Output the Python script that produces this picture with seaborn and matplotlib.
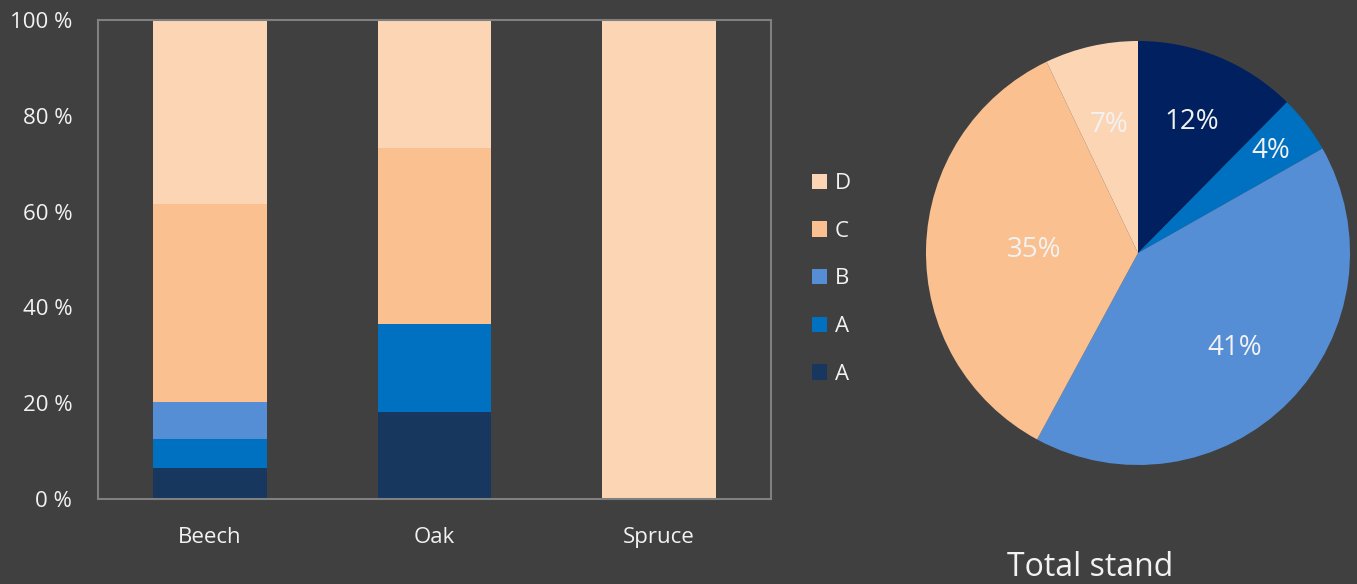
import numpy as np
import pandas as pd
import matplotlib
matplotlib.use("Agg")
import matplotlib.pyplot as plt
from matplotlib.patches import Patch
import seaborn as sns

# ---------------- data ----------------
species = ["Beech", "Oak", "Spruce"]
layer_names = ["A", "A", "B", "C", "D"]          # bottom -> top
a_dark = [6.5, 18.2, 0.0]
a_mid = [6.0, 18.3, 0.0]
b_vals = [7.8, 0.0, 0.0]
c_vals = [41.3, 36.8, 0.0]
d_vals = [38.4, 26.7, 100.0]
y_ticks = [0, 20, 40, 60, 80, 100]
y_tick_labels = ["0 %", "20 %", "40 %", "60 %", "80 %", "100 %"]

pie_values = [12.4, 4.4, 41.1, 35.0, 7.1]        # clockwise from top
pie_title = "Total stand"

# ---------------- style ----------------
BG = "#404040"
TXT = "#f2f2f2"
GRID = "#808080"
bar_colors = ["#17375e", "#0070c0", "#558ed5", "#fac090", "#fcd5b5"]
pie_colors = ["#002060", "#0070c0", "#558ed5", "#fac090", "#fcd5b5"]

sns.set_theme(style="dark", rc={"figure.facecolor": BG, "axes.facecolor": BG,
                                "savefig.facecolor": BG})
plt.rcParams["font.family"] = ["Open Sans", "DejaVu Sans"]

fig = plt.figure(figsize=(13.57, 5.84), dpi=100)

# ---------------- stacked bars ----------------
ax = fig.add_axes([98 / 1357, 1 - 499 / 584, (771 - 98) / 1357, (499 - 20) / 584])
ax.set_facecolor(BG)
layers = [a_dark, a_mid, b_vals, c_vals, d_vals]
bottom = np.zeros(len(species))
for vals, col in zip(layers, bar_colors):
    sns.barplot(x=species, y=vals, bottom=bottom, color=col, width=0.507,
                errorbar=None, linewidth=0, saturation=1, ax=ax)
    bottom = bottom + np.array(vals)

ax.set_xlim(-0.5, len(species) - 0.5)
ax.set_ylim(0, 100)
ax.set_yticks(y_ticks)
ax.set_yticklabels(y_tick_labels)
ax.set_xticks(range(len(species)))
ax.set_xticklabels(species)
ax.set_xticks(np.arange(-0.5, len(species)), minor=True)
ax.tick_params(axis="x", which="major", length=0, pad=20, labelsize=16, colors=TXT)
ax.tick_params(axis="x", which="minor", length=6, width=1.5, color=GRID, direction="out")
ax.tick_params(axis="y", which="major", length=12, width=1.5, color=GRID,
               direction="inout", labelsize=16, labelcolor=TXT, pad=12.5)
ax.set_xlabel("")
ax.set_ylabel("")
ax.grid(False)
for s in ax.spines.values():
    s.set_visible(True)
    s.set_color(GRID)
    s.set_linewidth(1.5)

# ---------------- legend ----------------
handles = [Patch(facecolor=c, edgecolor="none") for c in bar_colors][::-1]
labels = layer_names[::-1]
fig.legend(handles, labels, loc="center left", bbox_to_anchor=(812 / 1357, 1 - 279 / 584),
           frameon=False, fontsize=16, labelcolor=TXT, handlelength=0.68,
           handleheight=0.68, handletextpad=0.35, labelspacing=1.2,
           borderpad=0, borderaxespad=0)

# ---------------- pie ----------------
r = 212
cx, cy = 1138, 253
pax = fig.add_axes([(cx - r) / 1357, 1 - (cy + r) / 584, 2 * r / 1357, 2 * r / 584])
wedges, texts = pax.pie(pie_values, colors=pie_colors, startangle=90, counterclock=False,
                        radius=1, wedgeprops=dict(linewidth=0))
label_dist = [0.67, 0.79, 0.64, 0.49, 0.62]
total = sum(pie_values)
for w, v, d in zip(wedges, pie_values, label_dist):
    ang = np.deg2rad((w.theta1 + w.theta2) / 2)
    pax.text(d * np.cos(ang), d * np.sin(ang), f"{v / total * 100:.0f}%",
             ha="center", va="center", color=TXT, fontsize=20)
pax.set_xlim(-1, 1)
pax.set_ylim(-1, 1)
pax.set_aspect("equal")
pax.axis("off")

fig.text(1090 / 1357, 1 - 568 / 584, pie_title, ha="center", va="center",
         color=TXT, fontsize=23)

fig.savefig("out.png", dpi=100, facecolor=BG)
